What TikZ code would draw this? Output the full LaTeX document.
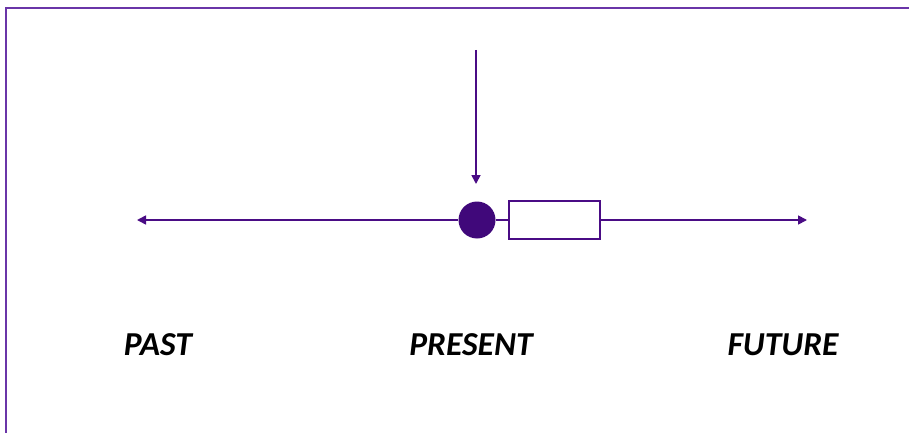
\documentclass[tikz,border=0pt]{standalone}
\usepackage{fontspec}
\setmainfont{Carlito}
\usetikzlibrary{arrows.meta}
\definecolor{framec}{HTML}{6A35A8}
\definecolor{linec}{HTML}{4A0C85}
\definecolor{dotc}{HTML}{40087A}
\tikzset{
  tl/.style={draw=linec, line width=1.7pt},
  tip/.style={-{Triangle[length=9pt,width=9pt]}},
  lbl/.style={font=\fontsize{33.5}{34}\selectfont\bfseries\itshape, text=black, inner sep=0pt},
}
\begin{document}
\begin{tikzpicture}[x=1pt,y=-1pt]
\useasboundingbox (0,0) rectangle (909,433);
\fill[white] (0,0) rectangle (909,433);
% frame
\coordinate (fbl) at (6,433);
\coordinate (ftl) at (6,8);
\coordinate (ftr) at (909,8);
\draw[draw=framec, line width=2.2pt] (fbl) -- (ftl) -- (ftr);
% nodes
\node[circle, fill=dotc, minimum size=37pt, inner sep=0pt] (now) at (477,220) {};
\node[draw=linec, line width=1.7pt, minimum width=91pt, minimum height=38pt, inner sep=0pt] (box) at (554.5,220) {};
\coordinate (lend) at (137,220);
\coordinate (rend) at (807,220);
\coordinate (top) at (476,50);
\coordinate (atip) at (476,184);
\draw[tl, tip] (now.west) -- (lend);
\draw[tl] (now.east) -- (box.west);
\draw[tl, tip] (box.east) -- (rend);
\draw[tl, tip] (top) -- (atip);
% labels
\node[lbl, draw=black, line width=0.5pt, draw opacity=0] (past) at (158,345) {PAST};
\node[lbl] (present) at (471,345) {PRESENT};
\node[lbl] (future) at (783,345) {FUTURE};
\end{tikzpicture}
\end{document}
